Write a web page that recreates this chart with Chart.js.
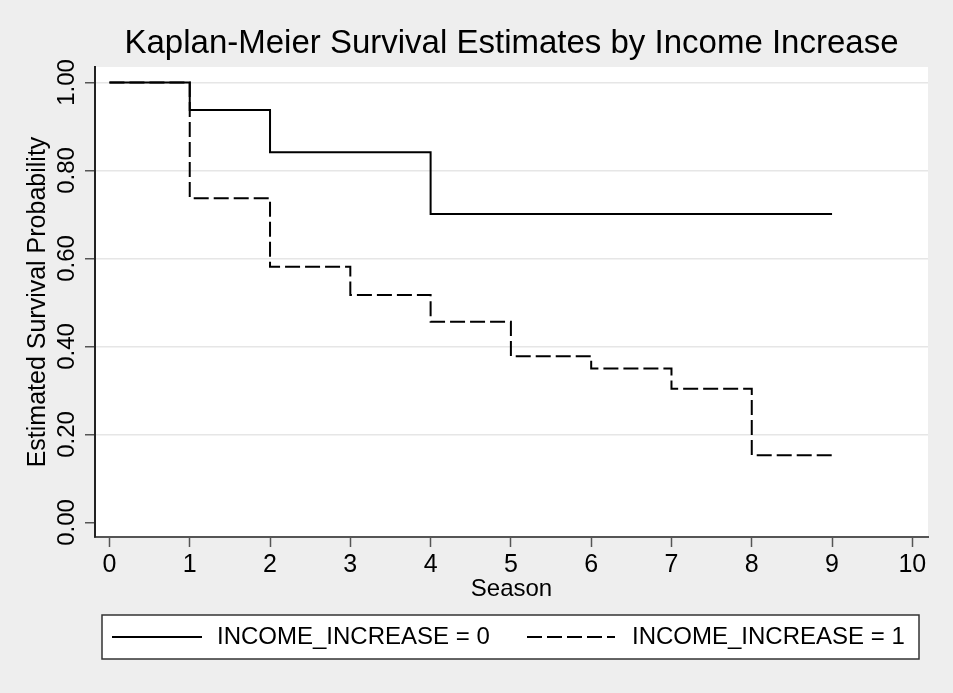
<!DOCTYPE html>
<html><head><meta charset="utf-8">
<script src="https://cdn.jsdelivr.net/npm/chart.js@4"></script>
<style>html,body{margin:0;padding:0;background:#eeeeee;} canvas{display:block;}</style>
</head><body>
<canvas id="c" width="953" height="693"></canvas>
<script>
const titleText = 'Kaplan-Meier Survival Estimates by Income Increase';
const xAxisTitle = 'Season';
const yAxisTitle = 'Estimated Survival Probability';
const seriesNames = ['INCOME_INCREASE = 0', 'INCOME_INCREASE = 1'];
const timesGroup0 = [0, 1, 2, 4, 9];
const survGroup0 = [1.0, 0.9375, 0.841, 0.701, 0.701];
const timesGroup1 = [0, 1, 2, 3, 4, 5, 6, 7, 8, 9];
const survGroup1 = [1.0, 0.737, 0.581, 0.517, 0.456, 0.378, 0.350, 0.304, 0.153, 0.153];
const xTickValues = [0, 1, 2, 3, 4, 5, 6, 7, 8, 9, 10];
const yTickValues = [0, 0.2, 0.4, 0.6, 0.8, 1.0];
const yTickLabels = ['0.00', '0.20', '0.40', '0.60', '0.80', '1.00'];

const FONT = '"Liberation Sans", Arial, Helvetica, sans-serif';
Chart.defaults.font.family = FONT;
Chart.defaults.color = '#000';

const toPoints = (xs, ys) => xs.map((x, i) => ({x: x, y: ys[i]}));

const bgPlugin = {
  id: 'bg',
  beforeDraw(chart) {
    const ctx = chart.ctx, a = chart.chartArea;
    ctx.save();
    ctx.fillStyle = '#eeeeee';
    ctx.fillRect(0, 0, chart.width, chart.height);
    ctx.fillStyle = '#ffffff';
    ctx.fillRect(a.left, a.top, a.right - a.left, a.bottom - a.top);
    ctx.restore();
  }
};

const yLabelPlugin = {
  id: 'yLabels',
  afterDraw(chart) {
    const s = chart.scales.y, ctx = chart.ctx;
    ctx.save();
    ctx.font = '24px ' + FONT;
    ctx.fillStyle = '#000';
    ctx.textAlign = 'center';
    ctx.textBaseline = 'alphabetic';
    yTickValues.forEach((v, i) => {
      const py = s.getPixelForValue(v);
      ctx.save();
      ctx.translate(s.right - 21.5, py);
      ctx.rotate(-Math.PI / 2);
      ctx.fillText(yTickLabels[i], 0, 0);
      ctx.restore();
    });
    ctx.restore();
  }
};

const legendPlugin = {
  id: 'boxLegend',
  afterDraw(chart) {
    const ctx = chart.ctx;
    const bx = 102, by = 615, bw = 817, bh = 44;
    ctx.save();
    ctx.fillStyle = '#ffffff';
    ctx.fillRect(bx, by, bw, bh);
    ctx.strokeStyle = '#333';
    ctx.lineWidth = 1.5;
    ctx.strokeRect(bx, by, bw, bh);
    const items = [{x0: 112, x1: 202, tx: 217}, {x0: 527, x1: 615, tx: 632}];
    const cy = 637;
    chart.data.datasets.forEach((ds, i) => {
      const it = items[i];
      ctx.beginPath();
      ctx.setLineDash(ds.borderDash || []);
      ctx.lineWidth = 2;
      ctx.strokeStyle = ds.borderColor;
      ctx.moveTo(it.x0, cy);
      ctx.lineTo(it.x1, cy);
      ctx.stroke();
      ctx.setLineDash([]);
      ctx.font = '24px ' + FONT;
      ctx.fillStyle = '#000';
      ctx.textBaseline = 'middle';
      ctx.textAlign = 'left';
      ctx.fillText(ds.label, it.tx, cy);
    });
    ctx.restore();
  }
};

new Chart(document.getElementById('c'), {
  type: 'line',
  data: {
    datasets: [
      {label: seriesNames[0], data: toPoints(timesGroup0, survGroup0), borderColor: '#000', borderWidth: 2,
       stepped: 'before', pointRadius: 0, fill: false},
      {label: seriesNames[1], data: toPoints(timesGroup1, survGroup1), borderColor: '#000', borderWidth: 2,
       borderDash: [15, 5], stepped: 'before', pointRadius: 0, fill: false}
    ]
  },
  options: {
    responsive: false,
    animation: false,
    devicePixelRatio: 1,
    layout: {padding: {left: 0, right: 25, top: 0, bottom: 81}},
    plugins: {
      legend: {display: false},
      tooltip: {enabled: false},
      title: {display: true, text: titleText, fullSize: false, color: '#000',
              font: {size: 33, weight: 'normal'}, padding: {top: 24.5, bottom: 2.9}}
    },
    scales: {
      x: {
        type: 'linear', min: -0.18, max: 10.195,
        afterBuildTicks: s => { s.ticks = xTickValues.map(v => ({value: v})); },
        afterFit: s => { s.height = 75; },
        ticks: {font: {size: 25}, color: '#000', padding: 3, maxRotation: 0, autoSkip: false,
                callback: v => String(v)},
        grid: {drawOnChartArea: false, tickColor: '#555', tickWidth: 1.5, tickLength: 10},
        border: {color: '#555', width: 2},
        title: {display: true, text: xAxisTitle, color: '#000', font: {size: 24}, padding: {top: 0, bottom: 8.5}}
      },
      y: {
        type: 'linear', min: -0.033, max: 1.035,
        afterBuildTicks: s => { s.ticks = yTickValues.map(v => ({value: v})); },
        afterFit: s => { s.width = 95; },
        ticks: {display: false},
        grid: {color: c => (c.tick && c.tick.value === 0) ? 'rgba(0,0,0,0)' : '#e6e6e6',
               lineWidth: 1.5, tickColor: '#555', tickWidth: 1.5, tickLength: 10, drawTicks: true},
        border: {color: '#222', width: 2},
        title: {display: true, text: yAxisTitle, color: '#000', font: {size: 25}, padding: {top: 23, bottom: 0}}
      }
    }
  },
  plugins: [bgPlugin, yLabelPlugin, legendPlugin]
});
</script>
</body></html>
